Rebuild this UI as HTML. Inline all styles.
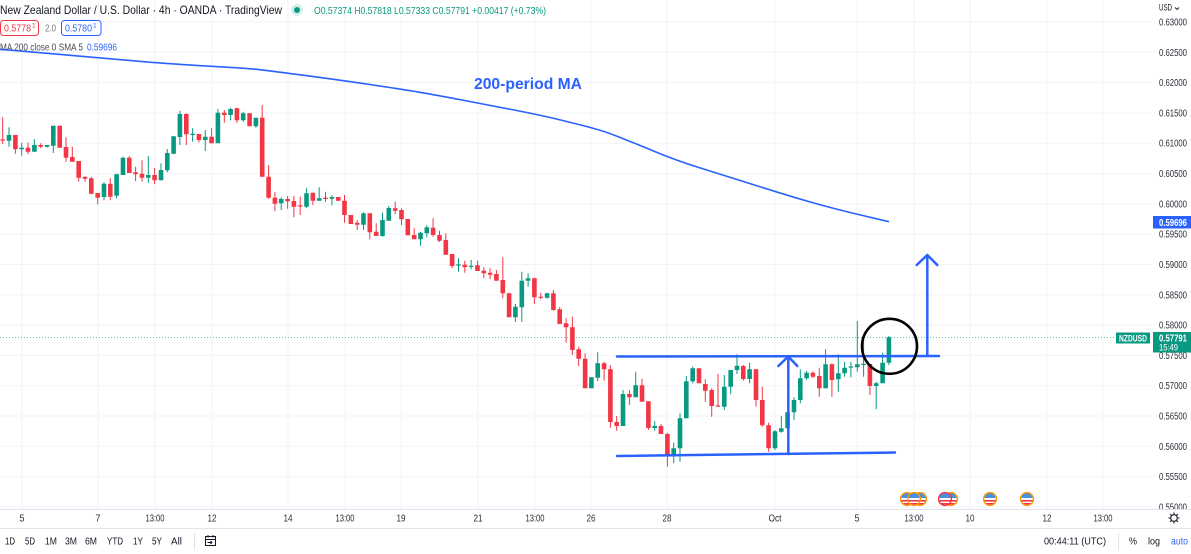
<!DOCTYPE html>
<html><head><meta charset="utf-8"><style>
html,body{margin:0;padding:0;background:#fff;width:1191px;height:554px;overflow:hidden}
svg{display:block;font-family:"Liberation Sans",sans-serif}
</style></head><body>
<svg width="1191" height="554" viewBox="0 0 1191 554" xmlns="http://www.w3.org/2000/svg">
<defs><clipPath id="fc"><circle cx="0" cy="0" r="6.3"/></clipPath></defs>
<rect width="1191" height="554" fill="#fff"/>
<!-- grid -->
<g stroke="#f0f3fa" stroke-width="1">
<path d="M0 22H1152M0 52.3H1152M0 82.6H1152M0 112.9H1152M0 143.2H1152M0 173.6H1152M0 203.9H1152M0 234.2H1152M0 264.5H1152M0 294.8H1152M0 325.1H1152M0 355.4H1152M0 385.7H1152M0 416H1152M0 446.3H1152M0 476.7H1152M0 507H1152"/>
<path d="M22 0V509M98 0V509M155 0V509M212 0V509M288 0V509M345 0V509M401 0V509M478 0V509M535 0V509M591 0V509M667 0V509M775 0V509M857 0V509M914 0V509M970 0V509M1047 0V509M1103 0V509"/>
</g>
<!-- last price dotted line -->
<line x1="0" y1="337.5" x2="1116" y2="337.5" stroke="#5fbfae" stroke-width="1" stroke-dasharray="1 2"/>
<!-- MA -->
<path fill="none" stroke="#2962ff" stroke-width="1.6" stroke-linejoin="round" d="M0 49.3 L28.5 51.65 Q57 54 86 56.65 Q115 59.3 143.5 61.65 Q172 64 209.5 66.15 Q247 68.3 255.5 69.15 Q264 70 304 75.35 Q344 80.7 373 85 Q402 89.3 419 92.15 Q436 95 462 100 Q488 105 514 110 Q540 115 557 119.15 Q574 123.3 588.5 127 Q603 130.7 617 136.2 Q631 141.7 654 151.2 Q677 160.7 700 167.85 Q723 175 754.5 185 Q786 195 809 201.65 Q832 208.3 860.5 215 L889 221.7"/>
<text x="474" y="89" font-size="16" font-weight="bold" fill="#2962ff" textLength="108" lengthAdjust="spacingAndGlyphs">200-period MA</text>
<!-- candles: wicks -->
<path fill="none" stroke="#089981" stroke-width="1" d="M9 127.3V146.7M21.7 142.7V155.7M34.4 139.3V151.7M47 145V147.7M53.3 125.7V153M104 182.3V200.3M116.6 173.7V198.3M123 156.7V175M148.3 156V182.7M161 163.3V180.3M167.3 149V172.3M173.6 136.3V154.3M179.9 110.7V145M192.6 128.3V141.7M205.3 130V151M217.9 109V143.3M230.6 107.7V120.3M243.2 111.7V121.7M255.9 117.7V127.7M281.2 197.3V210M306.5 188.3V208.3M319.2 187.3V200.7M331.9 195V205.3M363.5 212.3V230M382.5 212.7V236.7M388.8 206V220.7M420.5 231.7V245.7M426.8 225.3V237.3M458.5 258.3V271.7M471.1 260V269.3M515.4 304V321.7M521.8 271.7V321.7M528.1 273.3V286.7M547.1 292.7V298.7M591.4 377.3V388.3M597.7 352.3V381M623 390V426M635.7 371.7V397.3M654.7 421.3V430.7M673.7 442.7V463.3M680 413.3V461.7M686.3 376V418.3M692.7 366.7V383.3M724.3 375V410M730.7 370V394.3M737 354.3V374M749.6 362.7V383.3M775 430V450M781.3 416V432.7M787.6 412.3V428.3M794 397.3V420M800.3 369.3V403.3M806.6 370.7V380M825.6 349.3V388.3M838.3 354.3V391.7M844.6 361.7V376.7M850.9 361.7V377.3M857.3 321V371.7M863.6 338.3V376.7M876.2 381.7V409.3M882.6 352.7V383.3M888.9 336V365"/>
<path fill="none" stroke="#f23645" stroke-width="1" d="M2.7 117.3V144.3M15.4 135V153.7M28 142.7V154.3M40.7 143.3V148.3M59.7 125.7V147.7M66 137.3V161.7M72.3 146.7V161.7M78.7 161V181.7M85 176V181.7M91.3 177V194.3M97.7 193V204.3M110.3 178.3V200.3M129.3 156V173M135.6 166.7V181M142 160.3V181.7M154.6 167.7V184.3M186.3 113.3V145M198.9 134V142.3M211.6 128.3V143.3M224.3 110V122.7M236.9 107.7V122.7M249.6 113.3V126.3M262.2 105V176.7M268.6 165V199M274.9 192.3V211M287.6 196V208.7M293.9 196V217.3M300.2 196.7V215M312.9 192.7V205M325.5 191.7V201.7M338.2 197V200.7M344.5 195V222.7M350.9 215V224M357.2 220V230M369.8 213.3V239.3M376.2 223.3V236M395.2 201.7V214.3M401.5 208.3V225M407.8 219V235.3M414.2 228.3V239.3M433.1 218.3V236.7M439.5 230.7V242M445.8 233.3V254.7M452.1 254V268.3M464.8 260.7V272.7M477.5 260.7V271M483.8 267.3V278.3M490.1 268.3V279.3M496.4 270V280.7M502.8 257.3V298.3M509.1 292.7V317.3M534.4 277.7V304M540.8 292.7V299.3M553.4 290V310.7M559.7 307V324M566.1 318.3V342.7M572.4 316.7V355M578.7 346.7V366M585.1 353.3V388.3M604.1 361.7V380.7M610.4 365.3V427.7M616.7 416V430.7M629.4 390V405M642 378.7V401.7M648.4 401.3V430M661 424V434M667.4 432.7V466.7M699 368.3V383.3M705.3 379.3V401.7M711.7 388.3V416.7M718 374V406.7M743.3 365V380.7M756 369.3V406.7M762.3 386.7V426.7M768.6 422.7V451.7M812.9 371.3V378.3M819.3 368.3V396.7M831.9 363.3V396.7M869.9 364V395"/>
<!-- candles: bodies -->
<path fill="none" stroke="#089981" stroke-width="4.6" d="M9 135V140.7M21.7 147.7V149.3M34.4 145V151.7M47 145V146.7M53.3 125.7V145.7M104 183.7V197M116.6 174.3V195.7M123 157.7V175M148.3 175V177.7M161 170V180.3M167.3 153V170.3M173.6 136.3V153.7M179.9 114V137M192.6 133.8V135M205.3 136.7V140M217.9 112.7V143.3M230.6 109V115M243.2 113.3V120.3M255.9 117.7V126.3M281.2 199V203.3M306.5 193.3V206.7M319.2 198.3V200.7M331.9 197V198.7M363.5 213.3V224.7M382.5 220V236M388.8 208V220.7M420.5 232.7V239.3M426.8 227.3V233.3M458.5 264.4V265.6M471.1 265.7V266.9M515.4 306.7V317.3M521.8 280.7V307.3M528.1 278.3V280.7M547.1 293.3V297.7M591.4 377.3V388.3M597.7 363.3V377.7M623 394V426M635.7 385.3V397.3M654.7 426V428M673.7 448.3V455M680 418.3V448.3M686.3 381.3V418.3M692.7 368.3V381.3M724.3 386.7V406.7M730.7 370V386.7M737 365.7V370M749.6 369.3V379M775 431.3V448.3M781.3 428.3V431.7M787.6 412.3V428.3M794 400V412.3M800.3 378.3V400M806.6 372.7V378.3M825.6 364.3V388.3M838.3 373.3V379.3M844.6 367.7V373.3M850.9 366.4V367.6M857.3 364.3V367.3M863.6 363.8V365M876.2 383.3V386M882.6 362.7V383.3M888.9 337.3V362.7"/>
<path fill="none" stroke="#f23645" stroke-width="4.6" d="M2.7 139.4V140.6M15.4 135V149.3M28 147.7V151.7M40.7 145V146.7M59.7 125.7V147.7M66 147V157.7M72.3 157V161.7M78.7 161V177.7M85 177V178.7M91.3 178.3V193.7M97.7 193V197.7M110.3 183.7V196.7M129.3 157.7V173M135.6 172.3V174.3M142 173.7V177.7M154.6 175V180.3M186.3 114V134.3M198.9 134V140M211.6 136.7V143.3M224.3 112.7V115M236.9 108.3V120.3M249.6 113.3V126.3M262.2 117.7V176.7M268.6 176.7V197.7M274.9 197.7V203.7M287.6 199V201.3M293.9 201V206.7M300.2 205.4V206.6M312.9 192.7V200.7M325.5 197.7V199M338.2 197V200.7M344.5 200.7V215M350.9 215V224M357.2 222.7V224.7M369.8 213.3V232.3M376.2 231.7V236M395.2 208.3V210.7M401.5 210V219.3M407.8 219V235.3M414.2 235V239.3M433.1 227.7V235M439.5 235V240.7M445.8 240V254.7M452.1 254V266M464.8 264.7V267.3M477.5 265.3V271M483.8 270.7V273.3M490.1 272.7V274.7M496.4 274V280.7M502.8 280V293.3M509.1 293.3V317.3M534.4 278.3V297.3M540.8 296.7V297.9M553.4 293.3V310M559.7 309.3V324M566.1 323.3V327.3M572.4 327.3V350M578.7 349.3V358.7M585.1 358.7V388.3M604.1 363.3V369.3M610.4 369.3V422M616.7 422V426M629.4 394V397.3M642 385.3V401.7M648.4 401.3V428M661 426V434M667.4 434V455M699 368.3V383.3M705.3 384V390.7M711.7 390V406M718 405.4V406.6M743.3 366V379M756 369.3V400M762.3 400V425.3M768.6 425.3V448.3M812.9 372.7V376.7M819.3 376V388.3M831.9 364.3V380M869.9 364V386"/>
<!-- annotations -->
<g stroke="#2962ff" stroke-width="2.5" fill="none" stroke-linecap="round" stroke-linejoin="round">
<line x1="617" y1="356.5" x2="939" y2="356"/>
<line x1="617" y1="456" x2="895" y2="452.5"/>
<line x1="788.3" y1="454" x2="788.3" y2="357"/>
<polyline points="778.3,366 788.3,356.5 797.3,366"/>
<line x1="927.3" y1="355.5" x2="927.3" y2="256"/>
<polyline points="916.7,265 927.3,255 937.3,265"/>
</g>
<circle cx="889.5" cy="346.3" r="27.5" fill="none" stroke="#000" stroke-width="2.6"/>
<!-- event icons -->
<g>
<g transform="translate(907,499)"><g clip-path="url(#fc)"><rect x="-7" y="-7" width="14" height="14" fill="#fff"/><rect x="-7" y="-7" width="14" height="6" fill="#4a90e2"/><rect x="-7" y="1" width="14" height="1.6" fill="#f23645"/><rect x="-7" y="4" width="14" height="1.6" fill="#f23645"/></g><circle r="6.4" fill="none" stroke="#ff9800" stroke-width="1.4"/></g>
<g transform="translate(920,499)"><g clip-path="url(#fc)"><rect x="-7" y="-7" width="14" height="14" fill="#fff"/><rect x="-7" y="-7" width="14" height="6" fill="#4a90e2"/><rect x="-7" y="1" width="14" height="1.6" fill="#f23645"/><rect x="-7" y="4" width="14" height="1.6" fill="#f23645"/></g><circle r="6.4" fill="none" stroke="#ff9800" stroke-width="1.4"/></g>
<g transform="translate(914,499)"><g clip-path="url(#fc)"><rect x="-7" y="-7" width="14" height="14" fill="#fff"/><rect x="-7" y="-7" width="14" height="6" fill="#4a90e2"/><rect x="-7" y="1" width="14" height="1.6" fill="#f23645"/><rect x="-7" y="4" width="14" height="1.6" fill="#f23645"/></g><circle r="6.4" fill="none" stroke="#ff9800" stroke-width="1.4"/></g>
<g transform="translate(951,499)"><g clip-path="url(#fc)"><rect x="-7" y="-7" width="14" height="14" fill="#fff"/><rect x="-7" y="-7" width="14" height="6" fill="#4a90e2"/><rect x="-7" y="1" width="14" height="1.6" fill="#f23645"/><rect x="-7" y="4" width="14" height="1.6" fill="#f23645"/></g><circle r="6.4" fill="none" stroke="#ff9800" stroke-width="1.4"/></g>
<g transform="translate(945,499)"><g clip-path="url(#fc)"><rect x="-7" y="-7" width="14" height="14" fill="#fff"/><rect x="-7" y="-7" width="14" height="6" fill="#4a90e2"/><rect x="-7" y="1" width="14" height="1.6" fill="#f23645"/><rect x="-7" y="4" width="14" height="1.6" fill="#f23645"/></g><circle r="6.4" fill="none" stroke="#f23645" stroke-width="1.4"/></g>
<g transform="translate(990,499)"><g clip-path="url(#fc)"><rect x="-7" y="-7" width="14" height="14" fill="#fff"/><rect x="-7" y="-7" width="14" height="6" fill="#4a90e2"/><rect x="-7" y="1" width="14" height="1.6" fill="#f23645"/><rect x="-7" y="4" width="14" height="1.6" fill="#f23645"/></g><circle r="6.4" fill="none" stroke="#ff9800" stroke-width="1.4"/></g>
<g transform="translate(1027,499)"><g clip-path="url(#fc)"><rect x="-7" y="-7" width="14" height="14" fill="#fff"/><rect x="-7" y="-7" width="14" height="6" fill="#4a90e2"/><rect x="-7" y="1" width="14" height="1.6" fill="#f23645"/><rect x="-7" y="4" width="14" height="1.6" fill="#f23645"/></g><circle r="6.4" fill="none" stroke="#ff9800" stroke-width="1.4"/></g>
</g>
<!-- header -->
<text x="0" y="14" font-size="12" fill="#131722" textLength="282" lengthAdjust="spacingAndGlyphs">New Zealand Dollar / U.S. Dollar · 4h · OANDA · TradingView</text>
<circle cx="297" cy="10" r="6" fill="#d4f0ea"/>
<circle cx="297" cy="10" r="3" fill="#089981"/>
<text x="314" y="14" font-size="10.5" fill="#089981" textLength="232" lengthAdjust="spacingAndGlyphs">O0.57374 H0.57818 L0.57333 C0.57791 +0.00417 (+0.73%)</text>
<rect x="0.5" y="20.5" width="38" height="15" rx="3" fill="#fff" stroke="#f23645" stroke-width="1"/>
<text x="4" y="31.5" font-size="10.5" fill="#f23645" textLength="27" lengthAdjust="spacingAndGlyphs">0.5778</text>
<text x="32" y="27.5" font-size="6.5" fill="#f23645">1</text>
<text x="45" y="31.5" font-size="10" fill="#787b86" textLength="11" lengthAdjust="spacingAndGlyphs">2.0</text>
<rect x="61.5" y="20.5" width="39.5" height="15" rx="3" fill="#fff" stroke="#2962ff" stroke-width="1"/>
<text x="65" y="31.5" font-size="10.5" fill="#2962ff" textLength="27" lengthAdjust="spacingAndGlyphs">0.5780</text>
<text x="93" y="27.5" font-size="6.5" fill="#2962ff">1</text>
<text x="0" y="50.5" font-size="10" fill="#4a4e59" textLength="83" lengthAdjust="spacingAndGlyphs">MA 200 close 0 SMA 5</text>
<text x="87" y="50.5" font-size="10" fill="#2962ff" textLength="30" lengthAdjust="spacingAndGlyphs">0.59696</text>
<!-- price axis -->
<text x="1159" y="10.5" font-size="9" fill="#131722" textLength="13" lengthAdjust="spacingAndGlyphs">USD</text>
<path d="M1175 7.5l2 2 2-2" fill="none" stroke="#131722" stroke-width="0.9"/>
<g font-size="10" fill="#2a2e39">
<text x="1159" y="25.5" textLength="28" lengthAdjust="spacingAndGlyphs">0.63000</text>
<text x="1159" y="55.8" textLength="28" lengthAdjust="spacingAndGlyphs">0.62500</text>
<text x="1159" y="86.1" textLength="28" lengthAdjust="spacingAndGlyphs">0.62000</text>
<text x="1159" y="116.4" textLength="28" lengthAdjust="spacingAndGlyphs">0.61500</text>
<text x="1159" y="146.7" textLength="28" lengthAdjust="spacingAndGlyphs">0.61000</text>
<text x="1159" y="177.1" textLength="28" lengthAdjust="spacingAndGlyphs">0.60500</text>
<text x="1159" y="207.4" textLength="28" lengthAdjust="spacingAndGlyphs">0.60000</text>
<text x="1159" y="237.7" textLength="28" lengthAdjust="spacingAndGlyphs">0.59500</text>
<text x="1159" y="268" textLength="28" lengthAdjust="spacingAndGlyphs">0.59000</text>
<text x="1159" y="298.3" textLength="28" lengthAdjust="spacingAndGlyphs">0.58500</text>
<text x="1159" y="328.6" textLength="28" lengthAdjust="spacingAndGlyphs">0.58000</text>
<text x="1159" y="358.9" textLength="28" lengthAdjust="spacingAndGlyphs">0.57500</text>
<text x="1159" y="389.2" textLength="28" lengthAdjust="spacingAndGlyphs">0.57000</text>
<text x="1159" y="419.5" textLength="28" lengthAdjust="spacingAndGlyphs">0.56500</text>
<text x="1159" y="449.8" textLength="28" lengthAdjust="spacingAndGlyphs">0.56000</text>
<text x="1159" y="480.2" textLength="28" lengthAdjust="spacingAndGlyphs">0.55500</text>
<text x="1159" y="510.5" textLength="28" lengthAdjust="spacingAndGlyphs">0.55000</text>
</g>
<rect x="1153" y="216" width="38" height="12.5" fill="#2962ff"/>
<text x="1159" y="225.8" font-size="10" fill="#fff" font-weight="bold" textLength="28" lengthAdjust="spacingAndGlyphs">0.59696</text>
<rect x="1116" y="332.5" width="34" height="11" fill="#089981"/>
<text x="1119" y="341.5" font-size="9" fill="#fff" font-weight="bold" textLength="28" lengthAdjust="spacingAndGlyphs">NZDUSD</text>
<rect x="1153" y="332" width="38" height="20.5" fill="#089981"/>
<text x="1159" y="341.3" font-size="10" fill="#fff" font-weight="bold" textLength="28" lengthAdjust="spacingAndGlyphs">0.57791</text>
<text x="1159" y="350.5" font-size="9" fill="#fff" textLength="19" lengthAdjust="spacingAndGlyphs">15:49</text>
<!-- time axis -->
<rect x="0" y="509" width="1191" height="45" fill="#fff"/>
<line x1="0" y1="509.5" x2="1191" y2="509.5" stroke="#e0e3eb" stroke-width="1"/>
<line x1="0" y1="528.5" x2="1191" y2="528.5" stroke="#e0e3eb" stroke-width="1"/>
<g font-size="10" fill="#2a2e39" text-anchor="middle">
<text x="22" y="521.5" textLength="5" lengthAdjust="spacingAndGlyphs">5</text>
<text x="98" y="521.5" textLength="5" lengthAdjust="spacingAndGlyphs">7</text>
<text x="155" y="521.5" textLength="19" lengthAdjust="spacingAndGlyphs">13:00</text>
<text x="212" y="521.5" textLength="9" lengthAdjust="spacingAndGlyphs">12</text>
<text x="288" y="521.5" textLength="9" lengthAdjust="spacingAndGlyphs">14</text>
<text x="345" y="521.5" textLength="19" lengthAdjust="spacingAndGlyphs">13:00</text>
<text x="401" y="521.5" textLength="9" lengthAdjust="spacingAndGlyphs">19</text>
<text x="478" y="521.5" textLength="9" lengthAdjust="spacingAndGlyphs">21</text>
<text x="535" y="521.5" textLength="19" lengthAdjust="spacingAndGlyphs">13:00</text>
<text x="591" y="521.5" textLength="9" lengthAdjust="spacingAndGlyphs">26</text>
<text x="667" y="521.5" textLength="9" lengthAdjust="spacingAndGlyphs">28</text>
<text x="775" y="521.5" textLength="13" lengthAdjust="spacingAndGlyphs">Oct</text>
<text x="857" y="521.5" textLength="5" lengthAdjust="spacingAndGlyphs">5</text>
<text x="914" y="521.5" textLength="19" lengthAdjust="spacingAndGlyphs">13:00</text>
<text x="970" y="521.5" textLength="9" lengthAdjust="spacingAndGlyphs">10</text>
<text x="1047" y="521.5" textLength="9" lengthAdjust="spacingAndGlyphs">12</text>
<text x="1103" y="521.5" textLength="19" lengthAdjust="spacingAndGlyphs">13:00</text>
</g>
<!-- gear -->
<g stroke="#131722" stroke-width="1.1" fill="none">
<circle cx="1174" cy="518" r="3.3"/>
<path d="M1174 512.5V514.3M1174 521.7V523.5M1168.5 518H1170.3M1177.7 518H1179.5M1170.1 514.1l1.2 1.2M1176.7 520.7l1.2 1.2M1170.1 521.9l1.2-1.2M1176.7 515.3l1.2-1.2"/>
</g>
<!-- toolbar -->
<g font-size="10" fill="#131722">
<text x="5" y="544.5" textLength="10" lengthAdjust="spacingAndGlyphs">1D</text>
<text x="25" y="544.5" textLength="10" lengthAdjust="spacingAndGlyphs">5D</text>
<text x="45" y="544.5" textLength="12" lengthAdjust="spacingAndGlyphs">1M</text>
<text x="65" y="544.5" textLength="12" lengthAdjust="spacingAndGlyphs">3M</text>
<text x="85" y="544.5" textLength="12" lengthAdjust="spacingAndGlyphs">6M</text>
<text x="107" y="544.5" textLength="16" lengthAdjust="spacingAndGlyphs">YTD</text>
<text x="133" y="544.5" textLength="10" lengthAdjust="spacingAndGlyphs">1Y</text>
<text x="152" y="544.5" textLength="10" lengthAdjust="spacingAndGlyphs">5Y</text>
<text x="171" y="544.5" textLength="11" lengthAdjust="spacingAndGlyphs">All</text>
<text x="1044" y="544.5" textLength="62" lengthAdjust="spacingAndGlyphs">00:44:11 (UTC)</text>
<text x="1129" y="544.5" textLength="8" lengthAdjust="spacingAndGlyphs">%</text>
<text x="1148" y="544.5" textLength="12" lengthAdjust="spacingAndGlyphs">log</text>
</g>
<text x="1171" y="544.5" font-size="10" fill="#2962ff" textLength="17" lengthAdjust="spacingAndGlyphs">auto</text>
<line x1="194.5" y1="533" x2="194.5" y2="550" stroke="#e0e3eb"/>
<line x1="1118.5" y1="533" x2="1118.5" y2="550" stroke="#e0e3eb"/>
<g stroke="#131722" stroke-width="1" fill="none">
<rect x="205.5" y="536.5" width="10" height="9"/>
<path d="M205.5 539.5H215.5M208 535V537.5M213 535V537.5M207.5 542.5H212M210.5 541l1.5 1.5-1.5 1.5"/>
</g>
</svg>
</body></html>
